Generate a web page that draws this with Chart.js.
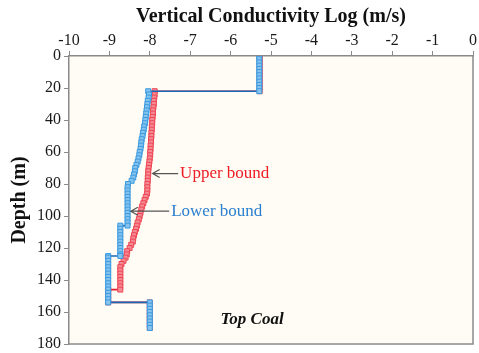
<!DOCTYPE html>
<html>
<head>
<meta charset="utf-8">
<script src="https://cdn.jsdelivr.net/npm/chart.js@4"></script>
<style>
  body { margin: 0; background: #ffffff; }
  #wrap { width: 479px; height: 353px; }
</style>
</head>
<body>
<div id="wrap"><canvas id="chart"></canvas></div>
<script>
// depth (m) and log conductivity values
const upperDepth = [0,2,4,6,8,10,12,14,16,18,20,22,
  22,24,26,28,30,32,34,36,38,40,42,44,46,48,50,52,54,56,58,60,62,64,66,68,70,72,74,76,78,80,
  82,84,86,88,90,92,94,96,98,100,102,104,106,108,110,112,114,116,118,120,122,124,126,128,130,
  132,134,136,138,140,142,144,146,146,148,150,152,154,154,156,158,160,162,164,166,168,170];
const upperLog = [-5.28,-5.28,-5.28,-5.28,-5.28,-5.28,-5.28,-5.28,-5.28,-5.28,-5.28,-5.28,
  -7.88,-7.88,-7.89,-7.90,-7.90,-7.91,-7.92,-7.92,-7.93,-7.94,-7.94,-7.95,-7.95,-7.96,-7.96,-7.97,-7.97,-7.98,-7.98,-7.99,-7.99,-8.00,-8.01,-8.02,-8.03,-8.04,-8.04,-8.05,-8.05,-8.06,
  -8.06,-8.06,-8.07,-8.10,-8.13,-8.16,-8.19,-8.21,-8.23,-8.25,-8.27,-8.30,-8.32,-8.34,-8.37,-8.39,-8.41,-8.42,-8.46,-8.50,-8.56,-8.57,-8.60,-8.65,-8.70,
  -8.73,-8.73,-8.73,-8.73,-8.73,-8.73,-8.73,-8.73,-9.03,-9.03,-9.03,-9.03,-9.03,-8.00,-8.00,-8.00,-8.00,-8.00,-8.00,-8.00,-8.00,-8.00];

const lowerDepth = [0,2,4,6,8,10,12,14,16,18,20,22,
  22,24,26,28,30,32,34,36,38,40,42,44,46,48,50,52,54,56,58,60,62,64,66,68,70,72,74,76,78,80,
  82,84,86,88,90,92,94,96,98,100,102,104,106,106,108,110,112,114,116,118,120,122,124,125,125,
  126,128,130,132,134,136,138,140,142,144,146,148,150,152,154,154,156,158,160,162,164,166,168,170];
const lowerLog = [-5.29,-5.29,-5.29,-5.29,-5.29,-5.29,-5.29,-5.29,-5.29,-5.29,-5.29,-5.29,
  -8.04,-8.02,-8.03,-8.05,-8.06,-8.07,-8.08,-8.09,-8.10,-8.11,-8.12,-8.14,-8.15,-8.17,-8.18,-8.20,-8.21,-8.22,-8.23,-8.25,-8.26,-8.28,-8.30,-8.33,-8.36,-8.37,-8.39,-8.41,-8.45,-8.54,
  -8.55,-8.55,-8.55,-8.55,-8.55,-8.55,-8.55,-8.55,-8.55,-8.55,-8.55,-8.55,-8.55,-8.73,-8.73,-8.73,-8.73,-8.73,-8.73,-8.73,-8.73,-8.73,-8.73,-8.73,-9.03,
  -9.03,-9.03,-9.03,-9.03,-9.03,-9.03,-9.03,-9.03,-9.03,-9.03,-9.03,-9.03,-9.03,-9.03,-9.03,-8.00,-8.00,-8.00,-8.00,-8.00,-8.00,-8.00,-8.00,-8.00];

// text labels: [text, log value, depth, arrow tip log value or null, colour, font]
const notes = [
  ['Upper bound', -7.25, 73.5, -7.93, '#ee1c25', '17px "Liberation Serif"'],
  ['Lower bound', -7.47, 97, -8.47, '#2b7fcf', '17px "Liberation Serif"'],
  ['Top Coal', -6.25, 164.5, null, '#111111', 'italic bold 17px "Liberation Serif"']
];

const serif = '"Liberation Serif", "Times New Roman", serif';
const toPoints = (xs, ys) => xs.map((d, i) => ({ x: ys[i], y: d }));

const plotBg = {
  id: 'plotBg',
  beforeDraw(chart) {
    const { ctx, chartArea: a } = chart;
    ctx.save();
    ctx.fillStyle = '#fefcf4';
    ctx.fillRect(a.left, a.top, a.right - a.left, a.bottom - a.top);
    ctx.restore();
  },
  afterDraw(chart) {
    const { ctx, chartArea: a } = chart;
    ctx.save();
    ctx.strokeStyle = '#8a8a8a';
    ctx.lineWidth = 1.5;
    ctx.beginPath();
    ctx.moveTo(a.right, a.top);
    ctx.lineTo(a.right, a.bottom);
    ctx.lineTo(a.left, a.bottom);
    ctx.stroke();
    ctx.restore();
  }
};

const notesPlugin = {
  id: 'notes',
  afterDatasetsDraw(chart) {
    const { ctx, scales: { x, y } } = chart;
    ctx.save();
    notes.forEach(([text, lx, ly, tip, color, font]) => {
      const px = x.getPixelForValue(lx);
      const py = y.getPixelForValue(ly);
      ctx.font = font;
      ctx.fillStyle = color;
      ctx.textBaseline = 'middle';
      ctx.textAlign = 'left';
      ctx.fillText(text, px, py);
      if (tip !== null) {
        const tx = x.getPixelForValue(tip);
        ctx.strokeStyle = '#555555';
        ctx.lineWidth = 1.2;
        ctx.beginPath();
        ctx.moveTo(px - 2, py);
        ctx.lineTo(tx, py);
        ctx.moveTo(tx + 7, py - 4);
        ctx.lineTo(tx, py);
        ctx.lineTo(tx + 7, py + 4);
        ctx.stroke();
      }
    });
    ctx.restore();
  }
};

new Chart(document.getElementById('chart'), {
  type: 'scatter',
  data: {
    datasets: [
      {
        label: 'Lower bound',
        data: toPoints(lowerDepth, lowerLog),
        showLine: true,
        borderColor: '#1a68b8',
        borderWidth: 1.6,
        pointStyle: 'rect',
        pointRadius: 3.5,
        pointBorderWidth: 1,
        pointBorderColor: '#3b9ae0',
        pointBackgroundColor: '#86c4ee'
      },
      {
        label: 'Upper bound',
        data: toPoints(upperDepth, upperLog),
        showLine: true,
        borderColor: '#e61e2a',
        borderWidth: 1.6,
        pointStyle: 'rect',
        pointRadius: 3.5,
        pointBorderWidth: 1,
        pointBorderColor: '#ee4654',
        pointBackgroundColor: '#f48b95'
      }
    ]
  },
  options: {
    responsive: true,
    maintainAspectRatio: false,
    animation: false,
    layout: { padding: { left: 0, top: 0, right: 6, bottom: 9 } },
    plugins: { legend: { display: false }, tooltip: { enabled: false } },
    scales: {
      x: {
        type: 'linear',
        position: 'top',
        min: -10,
        max: 0,
        ticks: { stepSize: 1, padding: 1, color: '#1a1a1a', font: { family: serif, size: 16 } },
        grid: { drawOnChartArea: false, drawTicks: true, tickLength: 5, color: '#8a8a8a' },
        border: { color: '#8a8a8a', width: 1.5 },
        title: {
          display: true,
          text: 'Vertical Conductivity Log (m/s)',
          color: '#111111',
          font: { family: serif, size: 20, weight: 'bold' },
          padding: { top: 5, bottom: 0 }
        },
        afterFit(scale) { scale.height = 56; }
      },
      y: {
        type: 'linear',
        reverse: true,
        min: 0,
        max: 180,
        ticks: { stepSize: 20, padding: 3, color: '#1a1a1a', font: { family: serif, size: 16, lineHeight: 1 } },
        grid: { drawOnChartArea: false, drawTicks: true, tickLength: 5, color: '#8a8a8a' },
        border: { color: '#8a8a8a', width: 1.5 },
        title: {
          display: true,
          text: 'Depth (m)',
          color: '#111111',
          font: { family: serif, size: 20, weight: 'bold' },
          padding: { top: 8, bottom: 0 }
        },
        afterFit(scale) {
          scale.width = 69;
          scale.paddingTop = 0;
          scale.paddingBottom = 0;
        }
      }
    }
  },
  plugins: [plotBg, notesPlugin]
});
</script>
</body>
</html>
